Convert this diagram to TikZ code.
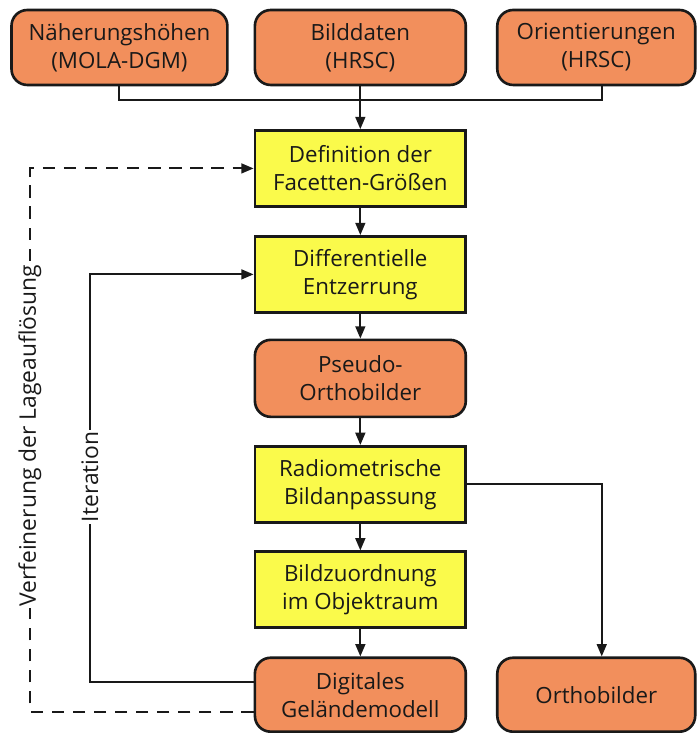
\documentclass[tikz,border=0pt]{standalone}
\usepackage{fontspec}
\setmainfont{Open Sans}
\usetikzlibrary{arrows.meta}
\definecolor{boxorange}{RGB}{242,143,92}
\definecolor{boxyellow}{RGB}{250,250,75}
\definecolor{inkline}{RGB}{25,25,25}
\begin{document}
\begin{tikzpicture}[x=0.02cm, y=-0.02cm,
  >={Triangle[length=7pt,width=5.6pt]},
  base/.style={draw=inkline, line width=1.5pt, align=center, inner sep=0pt,
    text=inkline, font=\fontsize{12.7}{16}\selectfont},
  iobox/.style={base, fill=boxorange, rounded corners=9pt},
  procbox/.style={base, fill=boxyellow, minimum width=4.22cm, minimum height=1.52cm},
  link/.style={draw=inkline, line width=1.15pt},
  looplabel/.style={fill=white, rotate=90, inner sep=1pt, text=inkline,
    font=\fontsize{13}{16}\selectfont}]
  \fill[white] (0,0) rectangle (697,733);

  % input data
  \node[iobox, minimum width=4.32cm, minimum height=1.5cm] (mola) at (119.5,47.5) {Näherungshöhen\\(MOLA-DGM)};
  \node[iobox, minimum width=4.22cm, minimum height=1.5cm] (bild) at (360.5,47.5) {Bilddaten\\(HRSC)};
  \node[iobox, minimum width=3.96cm, minimum height=1.5cm] (orient) at (596.5,47.5) {Orientierungen\\(HRSC)};

  % processing chain
  \node[procbox] (facet) at (360.5,168.5) {Definition der\\Facetten-Größen};
  \node[procbox] (entz) at (360.5,274.5) {Differentielle\\Entzerrung};
  \node[iobox, minimum width=4.22cm, minimum height=1.54cm] (pseudo) at (360.5,378.5) {Pseudo-\\Orthobilder};
  \node[procbox] (radio) at (360.5,484.5) {Radiometrische\\Bildanpassung};
  \node[procbox] (match) at (360.5,590) {Bildzuordnung\\im Objektraum};
  \node[iobox, minimum width=4.22cm, minimum height=1.48cm] (dgm) at (360.5,695) {Digitales\\Geländemodell};
  \node[iobox, minimum width=3.96cm, minimum height=1.48cm] (ortho) at (596.5,695) {Orthobilder};

  % helper coordinates for the routing
  \coordinate (joinY) at (0,100);
  \coordinate (iterY) at (0,682);
  \coordinate (refY) at (0,712);
  \coordinate (orthoX) at (602,0);
  \coordinate (iterX) at (90,0);
  \coordinate (refX) at (30,0);

  % gather the inputs
  \draw[link] (mola.south) -- (mola.south |- joinY) -- (orthoX |- joinY) -- (orthoX |- orient.south);
  \draw[link,->] (bild.south) -- (facet.north);

  % main chain
  \draw[link,->] (facet) -- (entz);
  \draw[link,->] (entz) -- (pseudo);
  \draw[link,->] (pseudo) -- (radio);
  \draw[link,->] (radio) -- (match);
  \draw[link,->] (match) -- (dgm);
  \draw[link,->] (radio.east) -- (orthoX |- radio.east) -- (orthoX |- ortho.north);

  % iteration loop
  \draw[link,->] (dgm.west |- iterY) -- (iterX |- iterY) -- (iterX |- entz.west) -- (entz.west);
  \node[looplabel] (iterlab) at (90,477) {Iteration};

  % refinement of the resolution
  \draw[link,->,dash pattern=on 7pt off 5pt] (dgm.west |- refY) -- (refX |- refY) -- (refX |- facet.west) -- (facet.west);
  \node[looplabel] (reflab) at (30,436) {Verfeinerung der Lageauflösung};
\end{tikzpicture}
\end{document}
